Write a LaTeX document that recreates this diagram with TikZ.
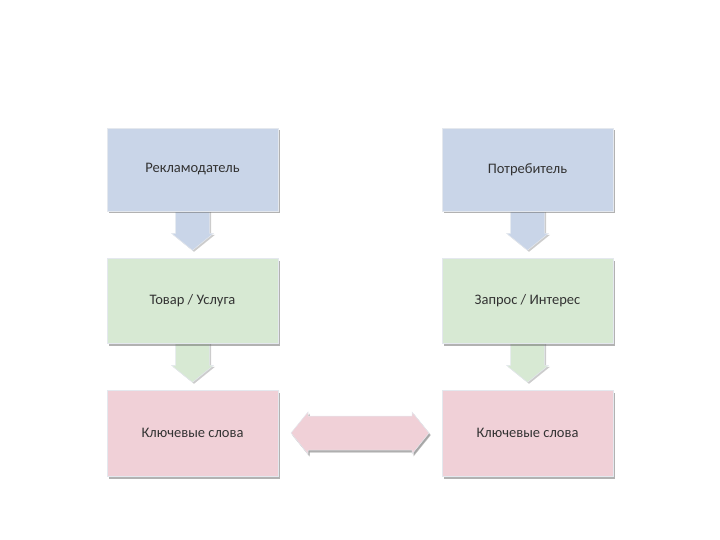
\documentclass[tikz,border=0pt]{standalone}
\usepackage{fontspec}
\setmainfont{Carlito}
\usetikzlibrary{shadows,calc,backgrounds}
\definecolor{bbox}{HTML}{C9D5E8}
\definecolor{gbox}{HTML}{D7E9D3}
\definecolor{pbox}{HTML}{F0D0D7}
\definecolor{edgec}{HTML}{E4E8EE}
\tikzset{
  box/.style={draw=edgec, line width=0.6pt, minimum width=171pt, inner sep=0pt,
    font=\fontsize{14.5}{16}\selectfont, text=black!80,
    drop shadow={shadow xshift=2pt, shadow yshift=-2.5pt, opacity=0.5, fill=gray!80!black}},
  arr/.style={draw=edgec, line width=0.5pt, line join=miter,
    drop shadow={shadow xshift=1.5pt, shadow yshift=-1.5pt, opacity=0.4, fill=gray}},
}
\begin{document}
\begin{tikzpicture}[x=1pt,y=-1pt]
\useasboundingbox (0,0) rectangle (720,540);
% boxes
\path (192.5,169.5) node[box, minimum height=83pt, fill=bbox] (r1) {Рекламодатель};
\path (192.5,300.5) node[box, minimum height=85pt, fill=gbox] (r2) {Товар / Услуга};
\path (192.5,433) node[box, minimum height=86pt, fill=pbox] (r3) {Ключевые слова};
\path (527.5,169.5) node[box, minimum height=83pt, fill=bbox] (p1) {Потребитель};
\path (527.5,300.5) node[box, minimum height=85pt, fill=gbox] (p2) {Запрос / Интерес};
\path (527.5,433) node[box, minimum height=86pt, fill=pbox] (p3) {Ключевые слова};
% down arrows, behind the boxes
\begin{scope}[on background layer]
\foreach \s/\c in {r1/bbox, r2/gbox, p1/bbox, p2/gbox}{
  \draw[arr, fill=\c] ([xshift=-17pt]\s.south) ++(0,-3) -- ++(0,25) -- ++(-4,0) -- ++(21,17)
     -- ++(21,-17) -- ++(-4,0) -- ++(0,-25) -- cycle;
}
\end{scope}
% double arrow
\coordinate (hm) at ($(r3.east)!0.5!(p3.west)$);
\draw[arr, fill=pbox, drop shadow={shadow xshift=1.5pt, shadow yshift=-2.5pt, opacity=0.5, fill=gray}]
  (hm) ++(-69,0) -- ++(17,-21) -- ++(0,4) -- ++(104,0) -- ++(0,-4) -- ++(17,21)
  -- ++(-17,21) -- ++(0,-4) -- ++(-104,0) -- ++(0,4) -- cycle;
\end{tikzpicture}
\end{document}
